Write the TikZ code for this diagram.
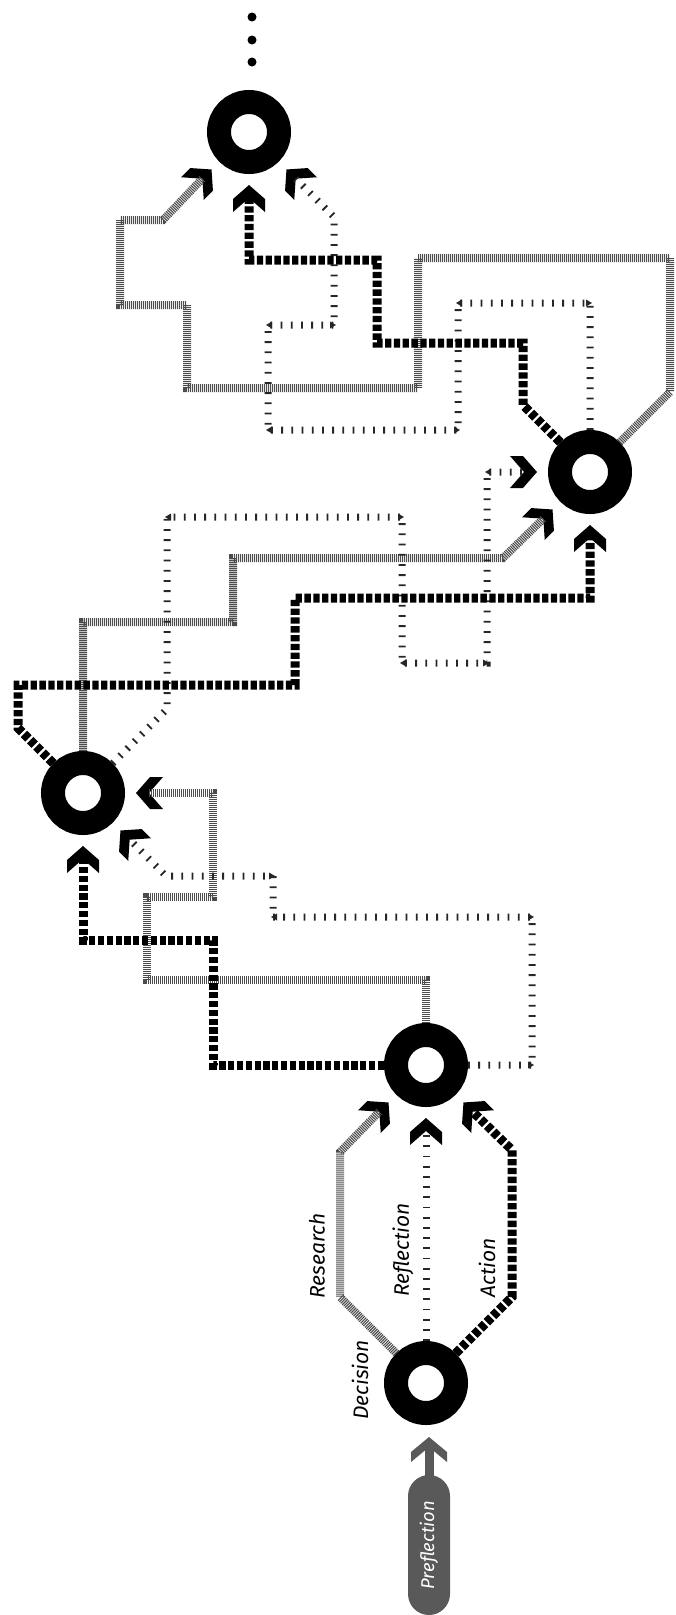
\documentclass[tikz,border=0pt]{standalone}
\usepackage{fontspec}
\setmainfont{Fira Sans}
\usetikzlibrary{calc}

% arrowhead chevron pointing at a ring: ring, visual angle of its position, name of the line end
\newcommand\ringchev[3]{%
  \fill[black, shift={($(#1)+({-(#2)}:53)$)}, rotate={(#2)+180}]
    (0,0) -- (-14,16) -- (-27,16) -- (-13,0) -- (-27,-16) -- (-14,-16) -- cycle;
  \coordinate (#3) at ($(#1)+({-(#2)}:66)$);}
% small tip at the end of a horizontal reflection run
\newcommand\rtip[2]{\fill[black!85, shift={(#1)}, rotate=#2] (2,0) -- (-4,3.5) -- (-4,-3.5) -- cycle;}

\begin{document}
\begin{tikzpicture}[x=1pt, y=-1pt, line join=miter,
  ring/.style={circle, draw=black, fill=white, line width=24pt, minimum size=60pt, inner sep=0pt},
  act/.style={line width=9pt, dash pattern=on 6.3pt off 2.5pt, black},
  res/.style={line width=8pt, dash pattern=on 1.1pt off 0.9pt, black!70},
  refl/.style={line width=7pt, dash pattern=on 1.8pt off 8.4pt, black!85},
  lbl/.style={rotate=90, font=\itshape\fontsize{21}{23}\selectfont, inner sep=0pt},
  pill/.style={rectangle, rounded corners=21pt, fill=black!65, text=white, rotate=90,
    minimum width=140pt, minimum height=42pt, inner sep=0pt,
    font=\itshape\fontsize{18.5}{20}\selectfont}]
\useasboundingbox (0,0) rectangle (676,1615);

% the five decision rings
\node[ring] (r1) at (426,1383) {};
\node[ring] (r2) at (426,1065) {};
\node[ring] (r3) at (83,793) {};
\node[ring] (r4) at (590,472) {};
\node[ring] (r5) at (249,132) {};

% continuation dots
\fill (252,17) circle (4.5);
\fill (252,40) circle (4.5);
\fill (252,62) circle (4.5);

% chevrons into each ring and the line ends behind them
\ringchev{r2}{-135}{r2g}\ringchev{r2}{-90}{r2f}\ringchev{r2}{-45}{r2a}
\ringchev{r3}{-90}{r3a}\ringchev{r3}{0}{r3g}\ringchev{r3}{-45}{r3f}
\ringchev{r4}{-90}{r4a}\ringchev{r4}{-135}{r4g}\ringchev{r4}{180}{r4f}
\ringchev{r5}{-135}{r5g}\ringchev{r5}{-90}{r5a}\ringchev{r5}{-45}{r5f}

% research paths
\draw[res] (r1.135) -- (340,1297) -- (340,1152) -- (r2g);
\draw[res] (r2.north) -- (426,980) -- (147,980) -- (147,897) -- (213,897) -- (213,793) -- (r3g);
\draw[res] (r3.north) -- (83,622) -- (233,622) -- (233,558) -- (503,558) -- (r4g);
\draw[res] (r4.45) -- (670,392) -- (670,258) -- (418,258) -- (418,388) -- (187,388)
  -- (187,305) -- (120,305) -- (120,220) -- (163,220) -- (r5g);

% reflection paths
\draw[refl] (r1.north) -- (r2f);
\draw[refl] (r2.east) -- (532,1065) -- (532,917) -- (273,917) -- (273,876) -- (166,876) -- (r3f);
\draw[refl] (r3.45) -- (167,709) -- (167,517) -- (402,517) -- (402,663) -- (487,663) -- (487,472) -- (r4f);
\draw[refl] (r4.north) -- (590,303) -- (458,303) -- (458,430) -- (268,430) -- (268,325) -- (334,325)
  -- (334,217) -- (r5f);
\rtip{532,1065}{0}\rtip{532,917}{0}\rtip{273,917}{180}\rtip{273,876}{0}
\rtip{167,517}{180}\rtip{402,517}{0}\rtip{402,663}{180}\rtip{487,663}{0}\rtip{487,472}{180}
\rtip{590,303}{0}\rtip{458,303}{180}\rtip{458,430}{0}\rtip{268,430}{180}\rtip{268,325}{180}\rtip{334,325}{0}

% action paths
\draw[act] (r1.45) -- (512,1297) -- (512,1150) -- (r2a);
\draw[act] (r2.west) -- (213,1065) -- (213,940) -- (83,940) -- (r3a);
\draw[act] (r3.135) -- (18,728) -- (18,685) -- (295,685) -- (295,598) -- (590,598) -- (r4a);
\draw[act] (r4.135) -- (523,405) -- (523,343) -- (377,343) -- (377,260) -- (249,260) -- (r5a);

% labels of the first step
\node[lbl] (tdec) at (360,1380) {Decision};
\node[lbl] (tres) at (317,1256) {Research};
\node[lbl] (tref) at (403,1250) {Reflection};
\node[lbl] (tact) at (487,1268) {Action};

% preflection entry
\node[pill] (pre) at (429,1545) {Preflection};
\fill[black!65] ($(pre.east)+(-4.5,2)$) rectangle ($(pre.east)+(4.5,-30)$);
\coordinate (pretip) at (429,1437);
\fill[black!65, shift={(pretip)}] (0,0) -- (18,15) -- (18,25) -- (0,10) -- (-18,25) -- (-18,15) -- cycle;
\end{tikzpicture}
\end{document}
